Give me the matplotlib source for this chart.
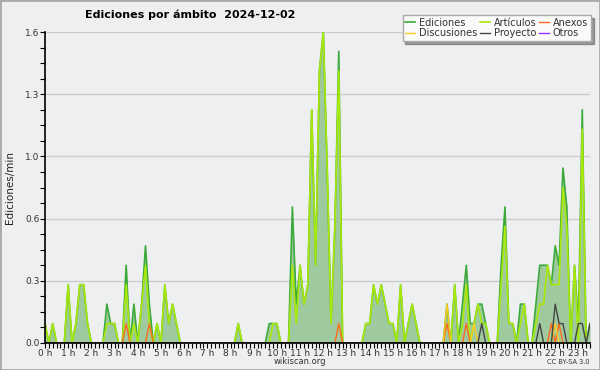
import numpy as np
import matplotlib
matplotlib.use("Agg")
import matplotlib.pyplot as plt
from matplotlib.patches import Rectangle

# edits per minute, one value per 10-minute slot (00:00 .. 23:30), one row per hour
ediciones = [
    0.1, 0, 0.1, 0, 0, 0,
    0.3, 0, 0.1, 0.3, 0.3, 0.1,
    0, 0, 0, 0, 0.2, 0.1,
    0.1, 0, 0, 0.4, 0, 0.2,
    0, 0.2, 0.5, 0.2, 0, 0.1,
    0, 0.3, 0.1, 0.2, 0.1, 0,
    0, 0, 0, 0, 0, 0,
    0, 0, 0, 0, 0, 0,
    0, 0, 0.1, 0, 0, 0,
    0, 0, 0, 0, 0.1, 0.1,
    0.1, 0, 0, 0, 0.7, 0.2,
    0.4, 0.2, 0.3, 1.2, 0.4, 1.4,
    1.6, 0.9, 0.1, 0.6, 1.5, 0,
    0, 0, 0, 0, 0, 0.1,
    0.1, 0.3, 0.2, 0.3, 0.2, 0.1,
    0.1, 0, 0.3, 0, 0.1, 0.2,
    0.1, 0, 0, 0, 0, 0,
    0, 0, 0.2, 0, 0.3, 0,
    0.2, 0.4, 0.1, 0.1, 0.2, 0.2,
    0.1, 0, 0, 0, 0.4, 0.7,
    0.1, 0.1, 0, 0.2, 0.2, 0,
    0, 0.2, 0.4, 0.4, 0.4, 0.3,
    0.5, 0.4, 0.9, 0.7, 0, 0.4,
    0.1, 1.2, 0, 0.1,
]
articulos = [
    0.1, 0, 0.1, 0, 0, 0,
    0.3, 0, 0.1, 0.3, 0.3, 0.1,
    0, 0, 0, 0, 0.1, 0.1,
    0.1, 0, 0, 0.3, 0, 0.1,
    0, 0.2, 0.4, 0.1, 0, 0.1,
    0, 0.3, 0.1, 0.2, 0.1, 0,
    0, 0, 0, 0, 0, 0,
    0, 0, 0, 0, 0, 0,
    0, 0, 0.1, 0, 0, 0,
    0, 0, 0, 0, 0, 0.1,
    0.1, 0, 0, 0, 0.4, 0.1,
    0.4, 0.2, 0.3, 1.2, 0.4, 1.4,
    1.6, 0.9, 0.1, 0.6, 1.4, 0,
    0, 0, 0, 0, 0, 0.1,
    0.1, 0.3, 0.2, 0.3, 0.2, 0.1,
    0.1, 0, 0.3, 0, 0.1, 0.2,
    0.1, 0, 0, 0, 0, 0,
    0, 0, 0, 0, 0.3, 0,
    0.1, 0.3, 0, 0.1, 0.2, 0.1,
    0.1, 0, 0, 0, 0.3, 0.6,
    0.1, 0.1, 0, 0.1, 0.2, 0,
    0, 0.1, 0.2, 0.2, 0.4, 0.3,
    0.3, 0.3, 0.8, 0.6, 0, 0.4,
    0, 1.1, 0, 0,
]
anexos = [0.0] * 142
discusiones = [0.0] * 142
proyecto = [0.0] * 142
otros = [0.0] * 142
for i in (21, 27, 76, 104, 109, 131, 133):
    anexos[i] = 0.1
for i, v in ((104, 0.2), (111, 0.1), (132, 0.1)):
    discusiones[i] = v
for i, v in ((113, 0.1), (128, 0.1), (132, 0.2), (133, 0.1), (134, 0.1),
             (138, 0.1), (139, 0.1), (141, 0.1)):
    proyecto[i] = v

hours = np.arange(len(ediciones)) / 6.0
hour_labels = ["%d h" % h for h in range(24)]

bg = "#eeeff1"
fig = plt.figure(figsize=(6, 3.7), dpi=100, facecolor=bg)
ax = fig.add_axes([45 / 600, 27 / 370, 545 / 600, 311 / 370], facecolor=bg)

ax.fill_between(hours, ediciones, color="#9fca9f", lw=0, zorder=1)
l_ed, = ax.plot(hours, ediciones, color="#3aaa3a", lw=1.2, zorder=2)
l_art, = ax.plot(hours, articulos, color="#a8e80a", lw=1.2, zorder=2)
l_anx, = ax.plot(hours, anexos, color="#ff6a1a", lw=1.0, zorder=2)
l_dis, = ax.plot(hours, discusiones, color="#ffcc22", lw=1.0, zorder=2)
l_pro, = ax.plot(hours, proyecto, color="#444444", lw=1.0, zorder=2)
l_otr, = ax.plot(hours, otros, color="#9933ff", lw=1.0, zorder=2)

ax.set_xlim(0, hours[-1])
ax.set_ylim(0, 1.6)

yt = [0, 0.32, 0.64, 0.96, 1.28, 1.6]
ax.set_yticks(yt)
ax.set_yticklabels(["%.1f" % v for v in yt])
ax.set_yticks(np.arange(0, 1.61, 0.08), minor=True)
ax.set_xticks(range(24))
ax.set_xticklabels(hour_labels)
ax.set_xticks(np.arange(0, 23.51, 1 / 6), minor=True)
ax.tick_params(axis="both", which="both", length=3.5, width=0.8, color="black",
               labelsize=6.5, labelcolor="#333333", pad=0.5)
for y in yt[1:]:
    ax.axhline(y, color="#cccccc", lw=1, zorder=0)

for s in ("top", "right"):
    ax.spines[s].set_visible(False)
for s in ("left", "bottom"):
    ax.spines[s].set_linewidth(1.2)

ax.set_ylabel("Ediciones/min", fontsize=7.5, color="#222222", labelpad=7)

fig.text(85 / 600, 1 - 15 / 370, "Ediciones por ámbito  2024-12-02",
         fontsize=8, fontweight="bold", va="center", ha="left")
fig.text(300 / 600, 1 - 362 / 370, "wikiscan.org", fontsize=6, color="#333333",
         ha="center", va="center")
fig.text(590 / 600, 1 - 362 / 370, "CC BY-SA 3.0", fontsize=4.8, color="#333333",
         ha="right", va="center")

leg = fig.legend([l_ed, l_dis, l_art, l_pro, l_anx, l_otr],
                 ["Ediciones", "Discusiones", "Artículos", "Proyecto", "Anexos", "Otros"],
                 ncol=3, loc="upper right", bbox_to_anchor=(596 / 600, 1 - 10 / 370),
                 fontsize=7, handlelength=1.0, handletextpad=0.4, columnspacing=0.3,
                 labelspacing=0.05, borderpad=0.3, frameon=True, fancybox=False,
                 shadow=True, framealpha=1)
leg.get_frame().set_edgecolor("#aaaaaa")
leg.get_frame().set_facecolor("#fafafa")
for t in leg.get_texts():
    t.set_color("#333333")

fig.patches.append(Rectangle((0, 0), 1, 1, transform=fig.transFigure, fill=False,
                             edgecolor="#aaaaaa", lw=2))

fig.savefig("out.png", dpi=100, facecolor=bg)
